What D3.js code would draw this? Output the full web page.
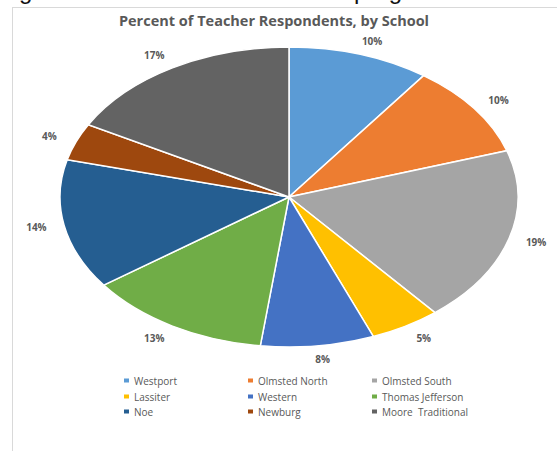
<!DOCTYPE html>
<html>
<head>
<meta charset="utf-8">
<script src="https://cdn.jsdelivr.net/npm/d3@7"></script>
<style>
  body { margin: 0; background: #fff; }
  svg { display: block; }
  text { font-family: "Open Sans", "Liberation Sans", sans-serif; }
</style>
</head>
<body>
<svg id="chart" width="557" height="451"></svg>
<script>
// school names, in the order the slices run clockwise from 12 o'clock
var schools = ["Westport", "Olmsted North", "Olmsted South", "Lassiter", "Western",
               "Thomas Jefferson", "Noe", "Newburg", "Moore  Traditional"];
// percent of respondents
var percents = [10, 10, 19, 5, 8, 13, 14, 4, 17];
var colors = ["#5b9bd5", "#ed7d31", "#a5a5a5", "#ffc000", "#4472c4",
              "#70ad47", "#255e91", "#9e480e", "#636363"];

var svg = d3.select("#chart");

// cut-off line of the page text above the chart
svg.append("text")
    .attr("x", 450)
    .attr("y", -1)
    .attr("text-anchor", "end")
    .style("font-family", "Liberation Sans, sans-serif")
    .style("font-size", "24px")
    .style("fill", "#111")
    .text("grade school in an after-school program.");

// chart frame
svg.append("rect")
    .attr("x", 12.5)
    .attr("y", 7.5)
    .attr("width", 700)
    .attr("height", 600)
    .attr("fill", "#fff")
    .attr("stroke", "#d9d9d9");

svg.append("text")
    .attr("x", 274)
    .attr("y", 26)
    .attr("text-anchor", "middle")
    .style("font-size", "14.5px")
    .style("font-weight", "bold")
    .style("fill", "#595959")
    .text("Percent of Teacher Respondents, by School");

var cx = 289, cy = 197, rx = 229, ry = 150;

var pie = d3.pie().sort(null).value(function(d) { return d; });
var arcs = pie(percents);

var arc = d3.arc().innerRadius(0).outerRadius(ry);

var g = svg.append("g")
    .attr("transform", "translate(" + cx + "," + cy + ") scale(" + (rx / ry) + ",1)");

g.selectAll("path")
    .data(arcs)
    .enter().append("path")
    .attr("d", arc)
    .attr("fill", function(d, i) { return colors[i]; })
    .attr("stroke", "#fff")
    .attr("stroke-width", 1.5)
    .attr("vector-effect", "non-scaling-stroke");

// labels just outside the ellipse edge
svg.selectAll(".lbl")
    .data(arcs)
    .enter().append("text")
    .attr("class", "lbl")
    .attr("x", function(d) {
        var a = (d.startAngle + d.endAngle) / 2;
        var s = Math.sin(a);
        return cx + (rx + 20) * s + (s > 0 ? 8 : -8) * Math.min(1, Math.abs(s) * 2.5);
    })
    .attr("y", function(d) {
        var a = (d.startAngle + d.endAngle) / 2;
        return cy - (ry + 14) * Math.cos(a) + 3.5;
    })
    .attr("text-anchor", "middle")
    .style("font-size", "10px")
    .style("font-weight", "bold")
    .style("fill", "#595959")
    .text(function(d) { return d.data + "%"; });

// legend, three columns
var legX = [127, 251, 375], legY = [381, 397, 412];
var leg = svg.selectAll(".leg")
    .data(schools)
    .enter().append("g")
    .attr("class", "leg")
    .attr("transform", function(d, i) {
        return "translate(" + legX[i % 3] + "," + legY[Math.floor(i / 3)] + ")";
    });

leg.append("rect")
    .attr("x", -3)
    .attr("y", -2.5)
    .attr("width", 5)
    .attr("height", 4)
    .attr("fill", function(d, i) { return colors[i]; });

leg.append("text")
    .attr("x", 7)
    .attr("y", 3.5)
    .style("font-size", "10px")
    .style("fill", "#595959")
    .style("white-space", "pre")
    .text(function(d) { return d; });
</script>
</body>
</html>
